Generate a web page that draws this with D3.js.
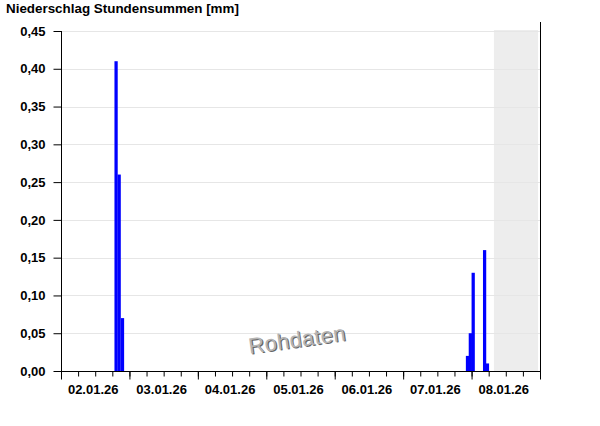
<!DOCTYPE html>
<html>
<head>
<meta charset="utf-8">
<script src="https://cdn.jsdelivr.net/npm/d3@7"></script>
<style>
    body { margin: 0; background: white; }
    svg { display: block; font-family: "Liberation Sans", Arial, sans-serif; }
</style>
</head>
<body>
<svg id="chart" width="600" height="426"></svg>
<script>

// hourly sums, bar starts at the given hour
const times = [
    "2026-01-02T18:45", "2026-01-02T19:50", "2026-01-02T21:00",
    "2026-01-07T22:00", "2026-01-07T23:00", "2026-01-08T00:00",
    "2026-01-08T04:00", "2026-01-08T05:00"
];
const values = [0.41, 0.26, 0.07, 0.02, 0.05, 0.13, 0.16, 0.01];

const yTicks = [0, 0.05, 0.10, 0.15, 0.20, 0.25, 0.30, 0.35, 0.40, 0.45];
const dayLabels = ["02.01.26", "03.01.26", "04.01.26", "05.01.26", "06.01.26", "07.01.26", "08.01.26"];

const startTime = "2026-01-02T00:00";
const endTime = "2026-01-09T00:00";
const nowTime = "2026-01-08T07:50";   // grey area = future

const parse = d3.isoParse;

const plotLeft = 61, plotRight = 540, plotTop = 31, plotBottom = 371;

const svg = d3.select("#chart");

const x = d3.scaleTime()
            .domain([parse(startTime), parse(endTime)])
            .range([plotLeft, plotRight]);

const y = d3.scaleLinear()
            .domain([0, 0.45])
            .range([plotBottom, plotTop]);

const fmt = v => d3.format(".2f")(v).replace(".", ",");

// future area
svg.append("rect")
   .attr("x", x(parse(nowTime)))
   .attr("y", plotTop - 1)
   .attr("width", plotRight - 2 - x(parse(nowTime)))
   .attr("height", plotBottom - plotTop + 1)
   .attr("fill", "#ededed");

// grid
svg.append("g")
   .selectAll("line")
   .data(yTicks.slice(1))
   .join("line")
   .attr("x1", plotLeft)
   .attr("x2", plotRight)
   .attr("y1", d => Math.round(y(d)) + 0.5)
   .attr("y2", d => Math.round(y(d)) + 0.5)
   .attr("stroke", "#e6e6e6");

// bars
svg.append("g")
   .selectAll("rect")
   .data(times.map((t, i) => ({t: parse(t), v: values[i]})))
   .join("rect")
   .attr("x", d => x(d.t))
   .attr("width", d => x(d3.timeHour.offset(d.t, 1)) - x(d.t) + 0.4)
   .attr("y", d => y(d.v))
   .attr("height", d => plotBottom - y(d.v))
   .attr("fill", "#0000ff");

// watermark
const wm = svg.append("g")
              .attr("transform", "translate(298,347) rotate(-8)");
wm.append("text")
  .attr("text-anchor", "middle")
  .attr("x", 1).attr("y", 1)
  .attr("font-size", 22)
  .attr("letter-spacing", 0.3)
  .attr("fill", "#666")
  .text("Rohdaten");
wm.append("text")
  .attr("text-anchor", "middle")
  .attr("font-size", 22)
  .attr("letter-spacing", 0.3)
  .attr("fill", "#b4b4b4")
  .text("Rohdaten");

// y axis
const yAxis = svg.append("g")
                 .attr("transform", `translate(${plotLeft + 0.5},0)`)
                 .call(d3.axisLeft(y)
                         .tickValues(yTicks)
                         .tickFormat(fmt)
                         .tickSize(8)
                         .tickPadding(8));
yAxis.select(".domain").remove();
yAxis.selectAll("text")
     .attr("font-family", "Liberation Sans, Arial, sans-serif")
     .attr("font-weight", "bold")
     .attr("font-size", 13)
     .attr("fill", "#000");

// x axis, minor ticks every 6 hours
const xMinor = svg.append("g")
                  .attr("transform", `translate(0,${plotBottom + 0.5})`)
                  .call(d3.axisBottom(x)
                          .ticks(d3.timeHour.every(6))
                          .tickSize(5)
                          .tickFormat(""));
xMinor.select(".domain").remove();

// x axis, major ticks at midnight
const xMajor = svg.append("g")
                  .attr("transform", `translate(0,${plotBottom + 0.5})`)
                  .call(d3.axisBottom(x)
                          .ticks(d3.timeDay.every(1))
                          .tickSize(8)
                          .tickFormat(""));
xMajor.select(".domain").remove();

// day labels at noon
svg.append("g")
   .selectAll("text")
   .data(dayLabels)
   .join("text")
   .attr("x", (d, i) => x(d3.timeHour.offset(parse(startTime), 24 * i + 12)) - 2)
   .attr("y", 394)
   .attr("text-anchor", "middle")
   .attr("font-weight", "bold")
   .attr("font-size", 13)
   .text(d => d);

// frame lines
svg.append("line")
   .attr("x1", plotLeft + 0.5).attr("x2", plotLeft + 0.5)
   .attr("y1", plotTop).attr("y2", plotBottom + 8)
   .attr("stroke", "#000");
svg.append("line")
   .attr("x1", plotLeft).attr("x2", plotRight + 1)
   .attr("y1", plotBottom + 0.5).attr("y2", plotBottom + 0.5)
   .attr("stroke", "#000");
svg.append("line")
   .attr("x1", plotRight + 0.5).attr("x2", plotRight + 0.5)
   .attr("y1", 22).attr("y2", plotBottom)
   .attr("stroke", "#000");

// title
svg.append("text")
   .attr("x", 6)
   .attr("y", 13)
   .attr("font-weight", "bold")
   .attr("font-size", 13.4)
   .text("Niederschlag Stundensummen [mm]");

</script>
</body>
</html>
